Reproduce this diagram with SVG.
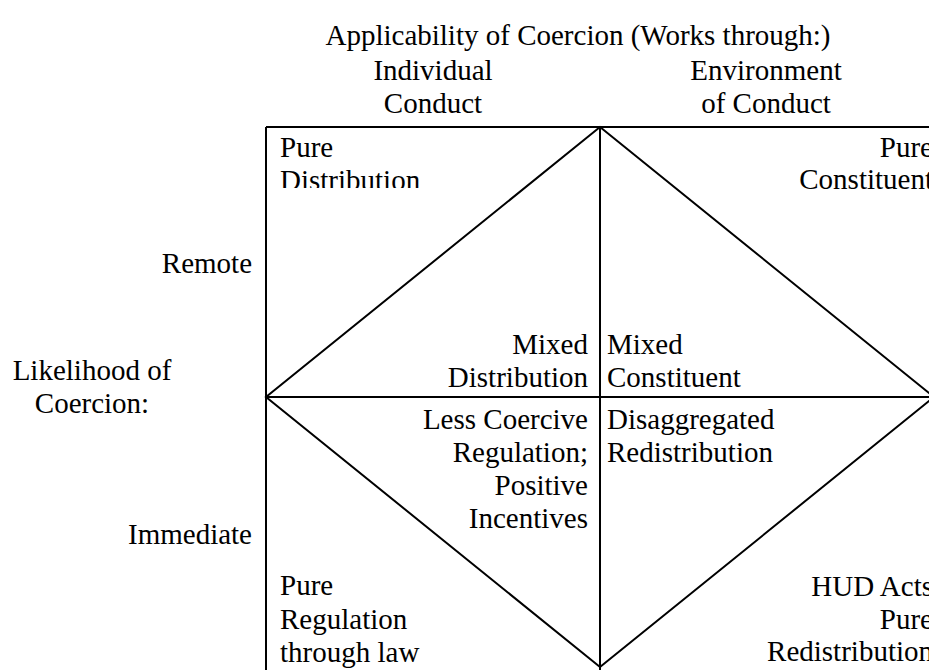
<svg xmlns="http://www.w3.org/2000/svg" width="929" height="670" viewBox="0 0 929 670">
  <style>
    text { font-family: "Liberation Serif", "Times New Roman", serif; font-size: 29px; fill: #000; }
    .mid { text-anchor: middle; }
    .end { text-anchor: end; }
    .ln { stroke: #000; stroke-width: 2; fill: none; }
  </style>
  <defs>
    <clipPath id="clipTopLeft">
      <rect x="266" y="127" width="334" height="61"/>
    </clipPath>
  </defs>
  <rect width="929" height="670" fill="#fff"/>

  <!-- axis headings -->
  <g id="title-applicability">
    <text class="mid" x="578" y="45">Applicability of Coercion (Works through:)</text>
  </g>
  <g id="col-individual">
    <text class="mid" x="433" y="80">Individual</text>
    <text class="mid" x="433" y="113">Conduct</text>
  </g>
  <g id="col-environment">
    <text class="mid" x="766" y="80">Environment</text>
    <text class="mid" x="766" y="113">of Conduct</text>
  </g>
  <g id="row-likelihood">
    <text class="mid" x="92" y="380">Likelihood of</text>
    <text class="mid" x="92" y="413">Coercion:</text>
  </g>
  <g id="row-remote">
    <text class="end" x="252" y="273">Remote</text>
  </g>
  <g id="row-immediate">
    <text class="end" x="252" y="544">Immediate</text>
  </g>

  <!-- grid and diamond -->
  <g id="connectors">
    <line class="ln" x1="266" y1="127" x2="929" y2="127"/>
    <line class="ln" x1="266" y1="127" x2="266" y2="670"/>
    <line class="ln" x1="600" y1="127" x2="600" y2="670"/>
    <line class="ln" x1="266" y1="397" x2="929" y2="397"/>
    <polygon class="ln" points="600,127 934,397 600,667 266,397"/>
  </g>

  <!-- cell labels -->
  <g id="pure-distribution" clip-path="url(#clipTopLeft)">
    <text x="280" y="157">Pure</text>
    <text x="280" y="190">Distribution</text>
  </g>
  <g id="pure-constituent">
    <text class="end" x="933" y="157">Pure</text>
    <text class="end" x="933" y="189">Constituent</text>
  </g>
  <g id="mixed-distribution">
    <text class="end" x="588" y="354">Mixed</text>
    <text class="end" x="588" y="387">Distribution</text>
  </g>
  <g id="mixed-constituent">
    <text x="607" y="354">Mixed</text>
    <text x="607" y="387">Constituent</text>
  </g>
  <g id="less-coercive-regulation">
    <text class="end" x="588" y="429">Less Coercive</text>
    <text class="end" x="588" y="462">Regulation;</text>
    <text class="end" x="588" y="495">Positive</text>
    <text class="end" x="588" y="528">Incentives</text>
  </g>
  <g id="disaggregated-redistribution">
    <text x="607" y="429">Disaggregated</text>
    <text x="607" y="462">Redistribution</text>
  </g>
  <g id="pure-regulation">
    <text x="280" y="595">Pure</text>
    <text x="280" y="629">Regulation</text>
    <text x="280" y="662">through law</text>
  </g>
  <g id="pure-redistribution">
    <text class="end" x="933" y="596">HUD Acts</text>
    <text class="end" x="933" y="629">Pure</text>
    <text class="end" x="933" y="661">Redistribution</text>
  </g>
</svg>
